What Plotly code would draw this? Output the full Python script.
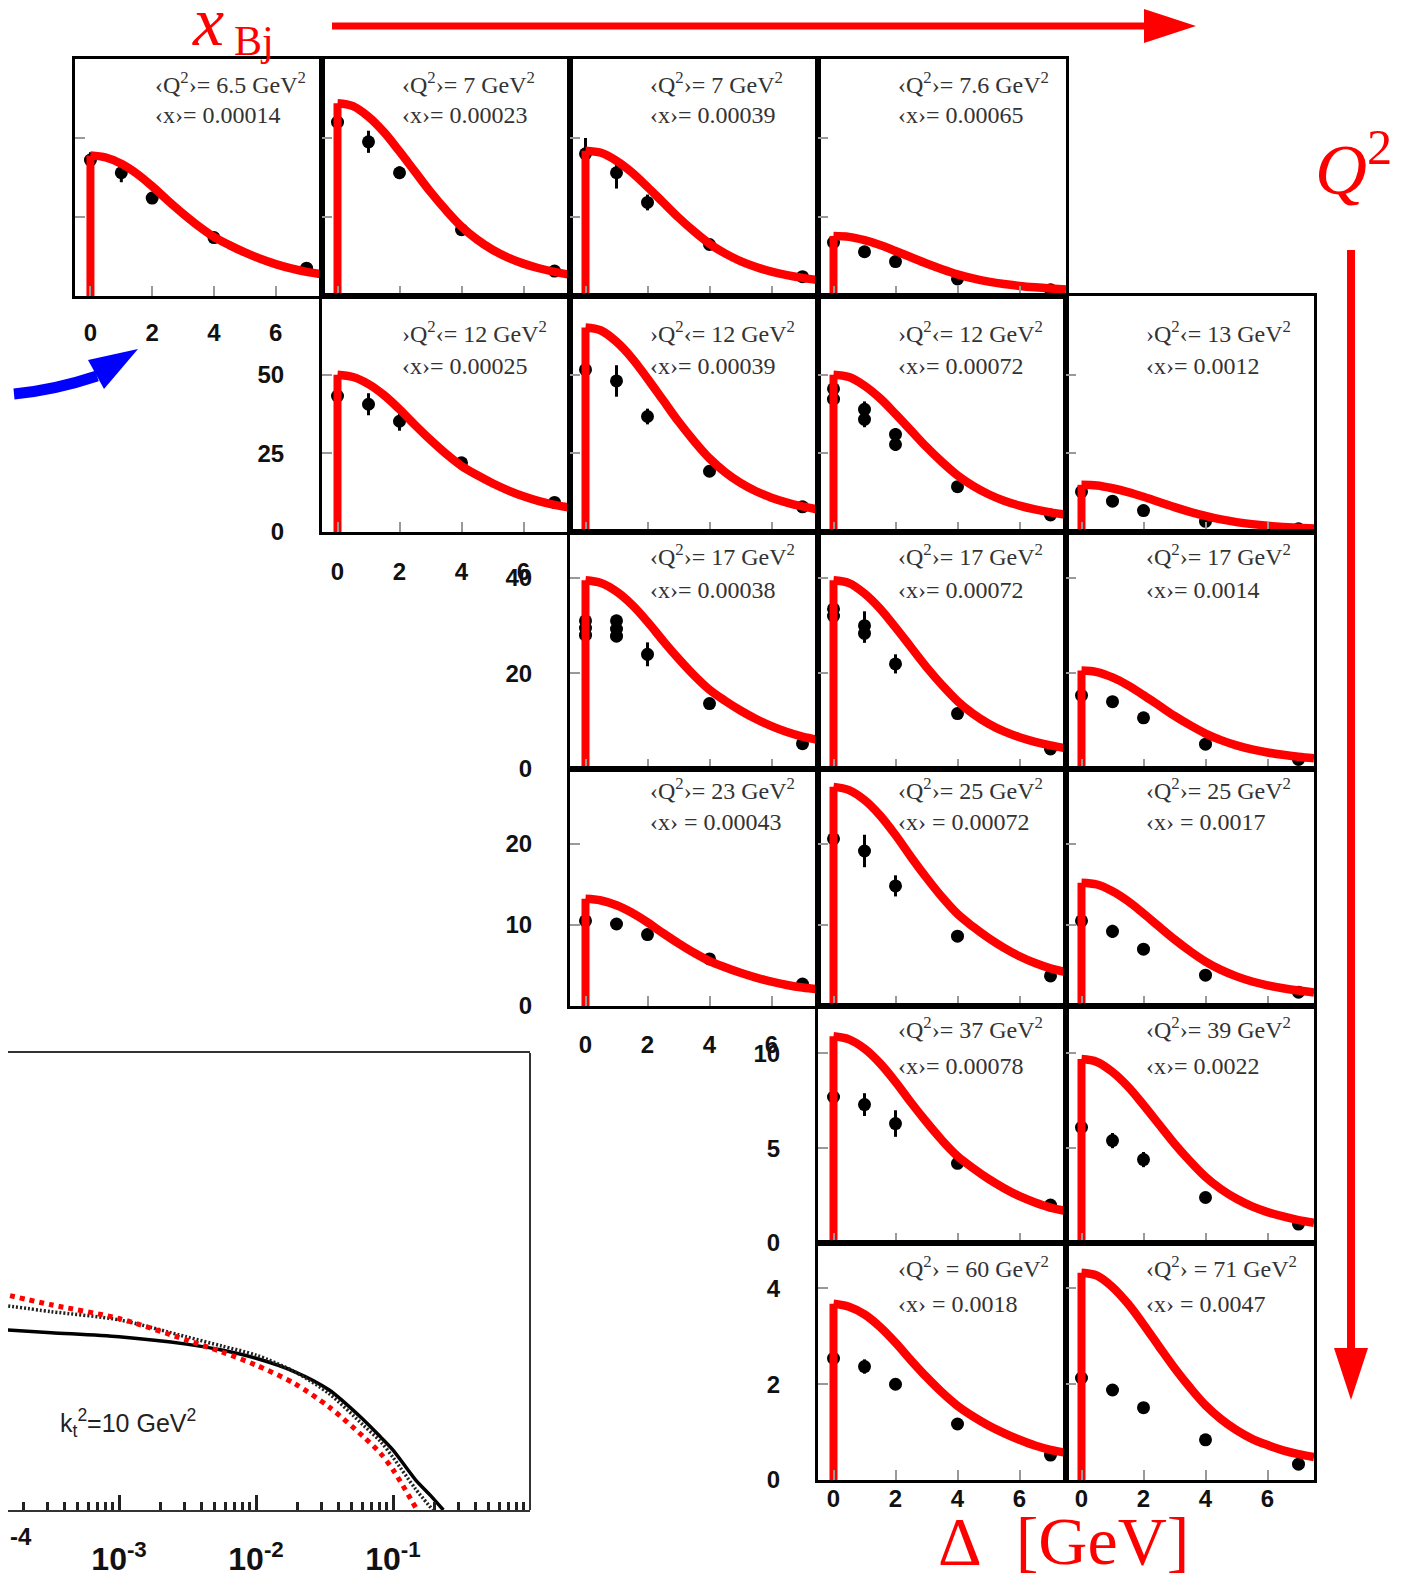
import plotly.graph_objects as go

# page body keeps an 8 px margin, so the figure is drawn 8 px in from the corner
OFF = 8
FW, FH = 1410 - 2 * OFF, 1587 - 2 * OFF

# Delta values (GeV) of the model curves and of the measured bins
delta_fit = [0, 0.5, 1, 1.5, 2, 2.5, 3, 3.5, 4, 4.5, 5, 5.5, 6, 6.5, 7, 7.5]
delta_pts = [0, 1, 2, 4, 7]

# panel labels, row by row
q2_labels = ["‹Q<sup>2</sup>›= 6.5 GeV<sup>2</sup>", "‹Q<sup>2</sup>›= 7 GeV<sup>2</sup>",
             "‹Q<sup>2</sup>›= 7 GeV<sup>2</sup>", "‹Q<sup>2</sup>›= 7.6 GeV<sup>2</sup>",
             "›Q<sup>2</sup>‹= 12 GeV<sup>2</sup>", "›Q<sup>2</sup>‹= 12 GeV<sup>2</sup>",
             "›Q<sup>2</sup>‹= 12 GeV<sup>2</sup>", "›Q<sup>2</sup>‹= 13 GeV<sup>2</sup>",
             "‹Q<sup>2</sup>›= 17 GeV<sup>2</sup>", "‹Q<sup>2</sup>›= 17 GeV<sup>2</sup>",
             "‹Q<sup>2</sup>›= 17 GeV<sup>2</sup>",
             "‹Q<sup>2</sup>›= 23 GeV<sup>2</sup>", "‹Q<sup>2</sup>›= 25 GeV<sup>2</sup>",
             "‹Q<sup>2</sup>›= 25 GeV<sup>2</sup>",
             "‹Q<sup>2</sup>›= 37 GeV<sup>2</sup>", "‹Q<sup>2</sup>›= 39 GeV<sup>2</sup>",
             "‹Q<sup>2</sup>› = 60 GeV<sup>2</sup>", "‹Q<sup>2</sup>› = 71 GeV<sup>2</sup>"]
x_labels = ["‹x›= 0.00014", "‹x›= 0.00023", "‹x›= 0.00039", "‹x›= 0.00065",
            "‹x›= 0.00025", "‹x›= 0.00039", "‹x›= 0.00072", "‹x›= 0.0012",
            "‹x›= 0.00038", "‹x›= 0.00072", "‹x›= 0.0014",
            "‹x› = 0.00043", "‹x› = 0.00072", "‹x› = 0.0017",
            "‹x›= 0.00078", "‹x›= 0.0022",
            "‹x› = 0.0018", "‹x› = 0.0047"]

# model curves (red)
fit_00 = [44.5, 43.83, 41.83, 38.72, 34.71, 30.26, 26.03, 22.12, 18.69, 16.11, 13.8, 11.79, 10.1, 8.72, 7.65, 6.9]
fit_01 = [61, 60.09, 56.73, 51.85, 45.75, 39.35, 32.94, 27.15, 21.96, 17.87, 14.64, 12.14, 10.25, 8.78, 7.63, 6.71]
fit_02 = [46, 45.31, 42.78, 39.1, 34.5, 29.67, 24.84, 20.47, 16.56, 13.48, 11.04, 9.15, 7.73, 6.62, 5.75, 5.06]
fit_03 = [19, 18.72, 17.67, 16.15, 14.25, 12.26, 10.26, 8.46, 6.84, 5.57, 4.56, 3.78, 3.19, 2.74, 2.38, 2.09]
fit_11 = [50, 49.25, 47, 43.5, 39, 34, 29.25, 24.85, 21, 18.1, 15.5, 13.25, 11.35, 9.8, 8.6, 7.75]
fit_12 = [65, 64.03, 60.45, 55.25, 48.75, 41.93, 35.1, 28.93, 23.4, 19.05, 15.6, 12.94, 10.92, 9.36, 8.13, 7.15]
fit_13 = [50, 49.25, 46.5, 42.5, 37.5, 32.25, 27, 22.25, 18, 14.65, 12, 9.95, 8.4, 7.2, 6.25, 5.5]
fit_14 = [15, 14.8, 13.9, 12.7, 11.2, 9.55, 7.9, 6.4, 5.1, 4.0, 3.15, 2.5, 2.0, 1.62, 1.32, 1.1]
fit_22 = [39.5, 38.91, 37.13, 34.37, 30.81, 26.86, 23.11, 19.63, 16.59, 14.3, 12.25, 10.47, 8.97, 7.74, 6.79, 6.12]
fit_23 = [39.5, 38.91, 36.74, 33.58, 29.63, 25.48, 21.33, 17.58, 14.22, 11.57, 9.48, 7.86, 6.64, 5.69, 4.94, 4.35]
fit_24 = [20.6, 20.29, 19.16, 17.51, 15.45, 13.29, 11.12, 9.17, 7.42, 6.04, 4.94, 4.1, 3.46, 2.97, 2.58, 2.27]
fit_32 = [13.2, 13.0, 12.41, 11.48, 10.3, 8.98, 7.72, 6.56, 5.54, 4.78, 4.09, 3.5, 3.0, 2.59, 2.27, 2.05]
fit_33 = [27, 26.6, 25.38, 23.49, 21.06, 18.36, 15.8, 13.42, 11.34, 9.77, 8.37, 7.16, 6.13, 5.29, 4.64, 4.19]
fit_34 = [15.2, 14.97, 14.14, 12.92, 11.4, 9.8, 8.21, 6.76, 5.47, 4.45, 3.65, 3.02, 2.55, 2.19, 1.9, 1.67]
fit_43 = [10.9, 10.74, 10.25, 9.48, 8.5, 7.41, 6.38, 5.42, 4.58, 3.95, 3.38, 2.89, 2.47, 2.14, 1.87, 1.69]
fit_44 = [9.7, 9.55, 9.02, 8.25, 7.28, 6.26, 5.24, 4.32, 3.49, 2.84, 2.33, 1.93, 1.63, 1.4, 1.21, 1.07]
fit_53 = [3.68, 3.62, 3.46, 3.2, 2.87, 2.5, 2.15, 1.83, 1.55, 1.33, 1.14, 0.98, 0.84, 0.72, 0.63, 0.57]
fit_54 = [4.33, 4.27, 4.03, 3.68, 3.25, 2.79, 2.34, 1.93, 1.56, 1.27, 1.04, 0.86, 0.73, 0.62, 0.54, 0.48]

# measured points (black) and their errors
pts_00 = [43, 39, 31, 18.5, 8.8];        err_00 = [2.5, 3, 1.5, 1, 0.8]
pts_01 = [55, 48.8, 39, 21, 7.9];        err_01 = [2, 3.5, 2, 1, 0.8]
pts_02 = [45, 39, 29.6, 16.3, 6.1];      err_02 = [5, 5, 2.5, 1, 0.8]
pts_03 = [17, 14, 10.9, 5.4, 2.0];       err_03 = [1, 1, 1, 0.6, 0.3]
pts_11 = [43.2, 40.6, 35.2, 22, 9.4];    err_11 = [1.5, 3.5, 3, 1, 0.8]
pts_12 = [51.6, 48, 36.7, 19.3, 8];      err_12 = [1.5, 5, 2.5, 1, 0.8]
delta_13 = [0, 0, 1, 1, 2, 2, 4, 7]
pts_13 = [45.5, 42.2, 39, 35.8, 31, 27.8, 14.4, 5.4]; err_13 = [2, 2, 2.5, 2.5, 2, 2, 1, 0.8]
pts_14 = [12.8, 9.8, 6.8, 3.4, 1.0];     err_14 = [1, 0.8, 0.8, 0.6, 0.3]
delta_22 = [0, 0, 0, 1, 1, 1, 2, 4, 7]
pts_22 = [31, 29.5, 28, 31, 29.3, 27.8, 24, 13.7, 5.3]; err_22 = [1, 1, 1, 1, 1, 1, 2.5, 1, 0.6]
delta_23 = [0, 0, 1, 1, 2, 4, 7]
pts_23 = [33.5, 32, 30, 28.4, 22, 11.6, 4.2]; err_23 = [1.5, 1.5, 3, 2, 2, 0.8, 0.5]
pts_24 = [15.4, 14.1, 10.7, 5.2, 2.0];   err_24 = [0.8, 1.2, 0.8, 0.5, 0.3]
pts_32 = [10.5, 10.1, 8.8, 5.8, 2.7];    err_32 = [0.5, 0.7, 0.7, 0.4, 0.3]
pts_33 = [20.6, 19.1, 14.8, 8.6, 3.7];   err_33 = [0.8, 2, 1.3, 0.6, 0.4]
pts_34 = [10.5, 9.2, 7.0, 3.8, 1.7];     err_34 = [0.5, 0.8, 0.5, 0.4, 0.3]
pts_43 = [7.7, 7.3, 6.3, 4.2, 2.0];      err_43 = [0.3, 0.6, 0.7, 0.3, 0.2]
pts_44 = [6.1, 5.4, 4.4, 2.4, 1.0];      err_44 = [0.3, 0.4, 0.4, 0.2, 0.2]
pts_53 = [2.54, 2.37, 2.0, 1.17, 0.52];  err_53 = [0.08, 0.15, 0.12, 0.06, 0.05]
pts_54 = [2.13, 1.88, 1.51, 0.84, 0.33]; err_54 = [0.08, 0.12, 0.08, 0.05, 0.05]

panel_rows = [0, 0, 0, 0, 1, 1, 1, 1, 2, 2, 2, 3, 3, 3, 4, 4, 5, 5]
panel_cols = [0, 1, 2, 3, 1, 2, 3, 4, 2, 3, 4, 2, 3, 4, 3, 4, 3, 4]
fits = [fit_00, fit_01, fit_02, fit_03, fit_11, fit_12, fit_13, fit_14, fit_22, fit_23,
        fit_24, fit_32, fit_33, fit_34, fit_43, fit_44, fit_53, fit_54]
pts = [pts_00, pts_01, pts_02, pts_03, pts_11, pts_12, pts_13, pts_14, pts_22, pts_23,
       pts_24, pts_32, pts_33, pts_34, pts_43, pts_44, pts_53, pts_54]
errs = [err_00, err_01, err_02, err_03, err_11, err_12, err_13, err_14, err_22, err_23,
        err_24, err_32, err_33, err_34, err_43, err_44, err_53, err_54]
pts_delta = [delta_pts] * 6 + [delta_13, delta_pts, delta_22, delta_23] + [delta_pts] * 8

# y axis per row
row_ymax = [75, 75, 49.6, 29.2, 12.5, 4.95]
row_yticks = [[0, 25, 50], [0, 25, 50], [0, 20, 40], [0, 10, 20], [0, 5, 10], [0, 2, 4]]

# unintegrated gluon at kt^2 = 10 GeV^2 (lower left plot)
ugd_x = [1.35e-4, 3.2e-4, 1e-3, 3.1e-3, 5.6e-3, 1e-2, 1.9e-2, 3.4e-2, 6.1e-2, 8.1e-2, 0.1, 0.146, 0.186, 0.233]
ugd_solid = [0.395, 0.388, 0.379, 0.363, 0.35, 0.332, 0.303, 0.263, 0.197, 0.16, 0.131, 0.066, 0.033, 0.0]
ugd_dot_x = [1.35e-4, 3.2e-4, 1e-3, 3.1e-3, 5.6e-3, 1e-2, 1.9e-2, 3.4e-2, 6.1e-2, 8.1e-2, 0.1, 0.146, 0.195]
ugd_dot = [0.449, 0.434, 0.416, 0.379, 0.359, 0.339, 0.303, 0.255, 0.185, 0.15, 0.115, 0.046, 0.0]
ugd_red_x = [1.35e-4, 3.2e-4, 1e-3, 3.1e-3, 5.6e-3, 1e-2, 1.9e-2, 3.4e-2, 6.1e-2, 8.1e-2, 0.1, 0.15]
ugd_red = [0.474, 0.449, 0.419, 0.372, 0.346, 0.317, 0.277, 0.226, 0.16, 0.124, 0.088, 0.0]

# pixel frame of the panel grid (page pixels)
col_edges = [75, 322, 570, 818, 1066, 1314]
row_edges = [59, 296, 532, 769, 1006, 1243, 1480]
label_off = [(24, 56), (36, 70), (23, 58), (20, 53), (22, 60), (24, 61)]
xlabel_standoff = [13, 16, 16, 15, 15, -5]
ylabel_panels = {(1, 1), (2, 2), (3, 2), (4, 3), (5, 3)}
xlabel_panels = {(0, 0), (1, 1), (3, 2), (5, 3), (5, 4)}


def px(x):
    return (x - OFF) / FW


def py(y):
    return 1 - (y - OFF) / FH


def path(points):
    return "M " + " L ".join(f"{px(a)},{py(b)}" for a, b in points) + " Z"


fig = go.Figure()
layout = {}
annotations = []
tickfont = dict(family="Liberation Sans", size=24, color="#111", weight="bold")

for k in range(len(fits)):
    r, c = panel_rows[k], panel_cols[k]
    s = "" if k == 0 else str(k + 1)
    xa, ya = "x" + s, "y" + s

    fig.add_trace(go.Scatter(
        x=pts_delta[k], y=pts[k], xaxis=xa, yaxis=ya, mode="markers",
        marker=dict(color="black", size=13),
        error_y=dict(type="data", array=errs[k], color="black", thickness=3, width=0)))
    fig.add_trace(go.Scatter(
        x=[0, 0], y=[0, fits[k][0]], xaxis=xa, yaxis=ya, mode="lines",
        line=dict(color="#ff0000", width=8)))
    fig.add_trace(go.Scatter(
        x=delta_fit, y=fits[k], xaxis=xa, yaxis=ya, mode="lines",
        line=dict(color="#ff0000", width=8.5, shape="spline", smoothing=1.0)))

    layout["xaxis" + s] = dict(
        domain=[px(col_edges[c]), px(col_edges[c + 1])], anchor=ya, range=[-0.5, 7.5],
        tickvals=[0, 2, 4, 6], ticks="inside", ticklen=10, tickwidth=1.5, tickcolor="#999",
        showticklabels=(r, c) in xlabel_panels, tickfont=tickfont,
        ticklabelstandoff=xlabel_standoff[r], automargin=False,
        showline=True, mirror=True, linewidth=3, linecolor="black",
        showgrid=False, zeroline=False)
    layout["yaxis" + s] = dict(
        domain=[py(row_edges[r + 1]), py(row_edges[r])], anchor=xa, range=[0, row_ymax[r]],
        tickvals=row_yticks[r], ticks="inside", ticklen=10, tickwidth=1.5, tickcolor="#999",
        showticklabels=(r, c) in ylabel_panels, tickfont=tickfont, ticklabelstandoff=30,
        automargin=False, showline=True, mirror=True, linewidth=3, linecolor="black",
        showgrid=False, zeroline=False)

    for text, off in ((q2_labels[k], label_off[r][0]), (x_labels[k], label_off[r][1])):
        annotations.append(dict(
            text=text, x=px(col_edges[c] + 78), y=py(row_edges[r] + off),
            xanchor="left", yanchor="middle",
            font=dict(family="Liberation Serif", size=24, color="#333")))

# lower left plot
for xs, ys, ln in ((ugd_x, ugd_solid, dict(color="black", width=3.5)),
                   (ugd_dot_x, ugd_dot, dict(color="#222", width=3.5, dash="2px,2px")),
                   (ugd_red_x, ugd_red, dict(color="#ff0000", width=5, dash="5px,5px"))):
    fig.add_trace(go.Scatter(x=xs, y=ys, xaxis="x19", yaxis="y19", mode="lines",
                             line=dict(shape="spline", smoothing=0.8, **ln)))

minor_vals = [m * 10.0 ** e for e in range(-4, 1) for m in range(2, 10)]
layout["xaxis19"] = dict(
    domain=[0, px(530)], anchor="y19", type="log", range=[-3.811, 0.0],
    tickmode="array", tickvals=[1e-4, 1e-3, 1e-2, 1e-1],
    ticktext=["10<sup>-4</sup>", "10<sup>-3</sup>", "10<sup>-2</sup>", "10<sup>-1</sup>"],
    ticks="inside", ticklen=15, tickwidth=2.5, tickcolor="#222",
    minor=dict(tickmode="array", tickvals=minor_vals, ticks="inside", ticklen=8,
               tickwidth=2.5, tickcolor="#222", showgrid=False),
    tickfont=dict(family="Liberation Sans", size=32, color="#111", weight="bold"),
    ticklabelstandoff=20, automargin=False, showline=True, mirror=True, linewidth=2,
    linecolor="#333", showgrid=False, zeroline=False)
layout["yaxis19"] = dict(domain=[py(1510), py(1053)], anchor="x19", range=[0, 1],
                         showline=False, showticklabels=False, ticks="", automargin=False,
                         showgrid=False, zeroline=False)

annotations += [
    dict(text="k<sub>t</sub><sup>2</sup>=10 GeV<sup>2</sup>", x=px(58), y=py(1423),
         xanchor="left", yanchor="middle",
         font=dict(family="Liberation Sans", size=25, color="#222")),
    dict(text="<b>-4</b>", x=px(8), y=py(1536), xanchor="left", yanchor="middle",
         font=dict(family="Liberation Sans", size=24, color="#111")),
    dict(text="<i>x</i>", x=px(190), y=py(22), xanchor="left", yanchor="middle",
         font=dict(family="Liberation Serif", size=70, color="#ff0000")),
    dict(text="Bj", x=px(232), y=py(41), xanchor="left", yanchor="middle",
         font=dict(family="Liberation Serif", size=42, color="#ff0000")),
    dict(text="<i>Q</i><sup>2</sup>", x=px(1313), y=py(165), xanchor="left", yanchor="middle",
         font=dict(family="Liberation Serif", size=72, color="#ff0000")),
    dict(text="Δ\u00a0\u00a0[GeV]", x=px(936), y=py(1541), xanchor="left", yanchor="middle",
         font=dict(family="Liberation Serif", size=68, color="#ff0000")),
]
for a in annotations:
    a.setdefault("xref", "paper")
    a.setdefault("yref", "paper")
    a.setdefault("showarrow", False)

shapes = [
    # right edge of the lower left frame
    dict(type="line", xref="paper", yref="paper", x0=px(530), x1=px(530),
         y0=py(1053), y1=py(1510), line=dict(color="#333", width=2)),
    # x_Bj arrow
    dict(type="line", xref="paper", yref="paper", x0=px(332), x1=px(1150),
         y0=py(26), y1=py(26), line=dict(color="#ff0000", width=7)),
    dict(type="path", xref="paper", yref="paper", path=path([(1144, 9), (1196, 26), (1144, 43)]),
         fillcolor="#ff0000", line=dict(width=0)),
    # Q^2 arrow
    dict(type="line", xref="paper", yref="paper", x0=px(1351), x1=px(1351),
         y0=py(250), y1=py(1355), line=dict(color="#ff0000", width=8)),
    dict(type="path", xref="paper", yref="paper", path=path([(1334, 1348), (1368, 1348), (1351, 1400)]),
         fillcolor="#ff0000", line=dict(width=0)),
    # blue pointer
    dict(type="path", xref="paper", yref="paper",
         path=f"M {px(14)},{py(394)} Q {px(55)},{py(390)} {px(97)},{py(376)}",
         line=dict(color="#0000ff", width=11)),
    dict(type="path", xref="paper", yref="paper", path=path([(88, 360), (138, 349), (104, 389)]),
         fillcolor="#0000ff", line=dict(width=0)),
]

fig.update_layout(
    width=FW, height=FH, margin=dict(l=0, r=0, t=0, b=0, autoexpand=False),
    paper_bgcolor="white", plot_bgcolor="white", showlegend=False,
    font=dict(family="Liberation Sans"),
    annotations=annotations, shapes=shapes, **layout)

fig.write_html("out.html")
